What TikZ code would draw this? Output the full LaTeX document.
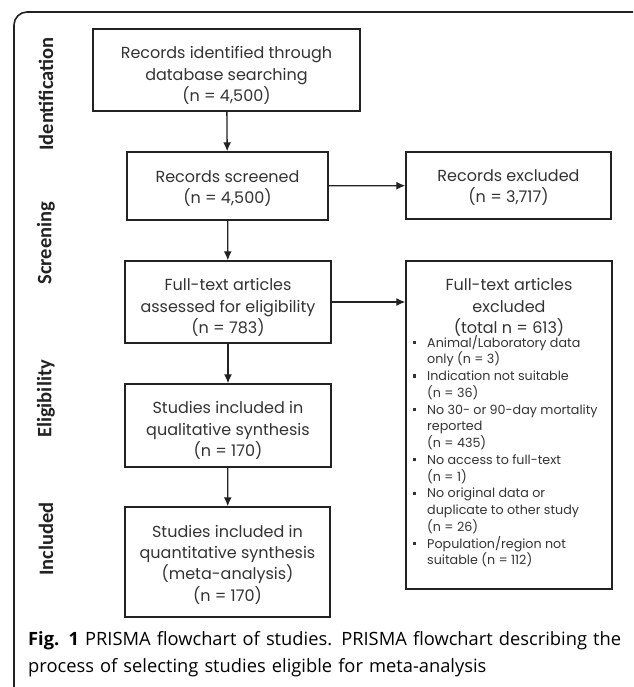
\documentclass[tikz,border=0pt]{standalone}
\usepackage{fontspec}
\setmainfont{Poppins}
\newfontfamily\capfont{Open Sans}
\newfontfamily\phasefont{Carlito}
\usetikzlibrary{arrows.meta}
\definecolor{ink}{HTML}{222222}
\definecolor{txt}{HTML}{333333}
\newcommand\bul{\makebox[14pt][l]{\rule[3pt]{3.2pt}{3.2pt}}}
\newcommand\itm[1]{\noindent\hangindent=14pt\hangafter=1 \bul #1\par}
\begin{document}
\begin{tikzpicture}[x=1pt,y=-1pt,
  flowbox/.style={draw=ink,line width=1.4pt,rectangle,inner sep=0pt},
  flowtext/.style={inner sep=0pt,align=center,text=txt,font=\fontsize{16}{21.4}\selectfont},
  phase/.style={rotate=90,font=\phasefont\fontsize{20.5}{22}\selectfont\bfseries,text=ink,inner sep=0pt},
  arr/.style={draw=ink,line width=1.3pt,-{Latex[length=9pt,width=8pt]}}]
\useasboundingbox (0,0) rectangle (633,687);
\begin{scope}
\clip (0,0) rectangle (633,687);
\draw[ink,line width=1.6pt,rounded corners=13pt] (14,720) -- (14,12) -- (646,12) -- (646,720);
\end{scope}
% phase labels
\node[phase] (pid) at (46,94) {Identification};
\node[phase] (psc) at (46,243) {Screening};
\node[phase] (pel) at (46,399) {Eligibility};
\node[phase] (pin) at (46,539) {Included};
% boxes
\node[flowbox,minimum width=267pt,minimum height=82pt] (b1) at (226.5,70) {};
\node[flowtext] (b1t) at (226.5,75.5) {Records identified through\\database searching\\(n = 4,500)};
\node[flowbox,minimum width=201pt,minimum height=68pt] (b2) at (227.5,186) {};
\node[flowtext] (b2t) at (227.5,188.5) {Records screened\\(n = 4,500)};
\node[flowbox,minimum width=205pt,minimum height=67pt] (e1) at (508.5,185.5) {};
\node[flowtext] (e1t) at (508.5,187.5) {Records excluded\\(n = 3,717)};
\node[flowbox,minimum width=206pt,minimum height=82pt] (b3) at (228,302) {};
\node[flowtext] (b3t) at (228,307.5) {Full-text articles\\assessed for eligibility\\(n = 783)};
\node[flowbox,minimum width=206pt,minimum height=83pt] (b4) at (228,425.5) {};
\node[flowtext] (b4t) at (228,430.5) {Studies included in\\qualitative synthesis\\(n = 170)};
\node[flowbox,minimum width=205pt,minimum height=110pt] (b5) at (227.5,562) {};
\node[flowtext] (b5t) at (227.5,564.5) {Studies included in\\quantitative synthesis\\(meta-analysis)\\(n = 170)};
\node[flowbox,minimum width=206pt,minimum height=328pt] (e2) at (509,425) {};
\node[flowtext] (e2t) at (509,307.5) {Full-text articles\\excluded\\(total n = 613)};
\node[text=txt,inner sep=0pt,anchor=north west] (e2l) at (413,335)
  {\begin{minipage}{194pt}\fontsize{12.7}{16.75}\selectfont\raggedright
   \itm{Animal/Laboratory data\newline only (n = 3)}
   \itm{Indication not suitable\newline (n = 36)}
   \itm{No 30- or 90-day mortality\newline reported\newline (n = 435)}
   \itm{No access to full-text\newline (n = 1)}
   \itm{No original data or\newline duplicate to other study\newline (n = 26)}
   \itm{Population/region not\newline suitable (n = 112)}
   \end{minipage}};
% arrows
\draw[arr] (b1) -- (b2);
\draw[arr] (b2) -- (b3);
\draw[arr] (b3) -- (b4);
\draw[arr] (b4) -- (b5);
\draw[arr] (b2) -- (e1);
\draw[arr] (b3) -- (e2.west |- b3);
% caption
\node[anchor=north west,align=left,inner sep=0pt,text width=605pt,
  font=\capfont\fontsize{18.3}{27}\selectfont,text=black] (cap) at (28,631)
  {\textbf{Fig. 1} PRISMA flowchart of studies. PRISMA flowchart describing the\\process of selecting studies eligible for meta-analysis};
\end{tikzpicture}
\end{document}
